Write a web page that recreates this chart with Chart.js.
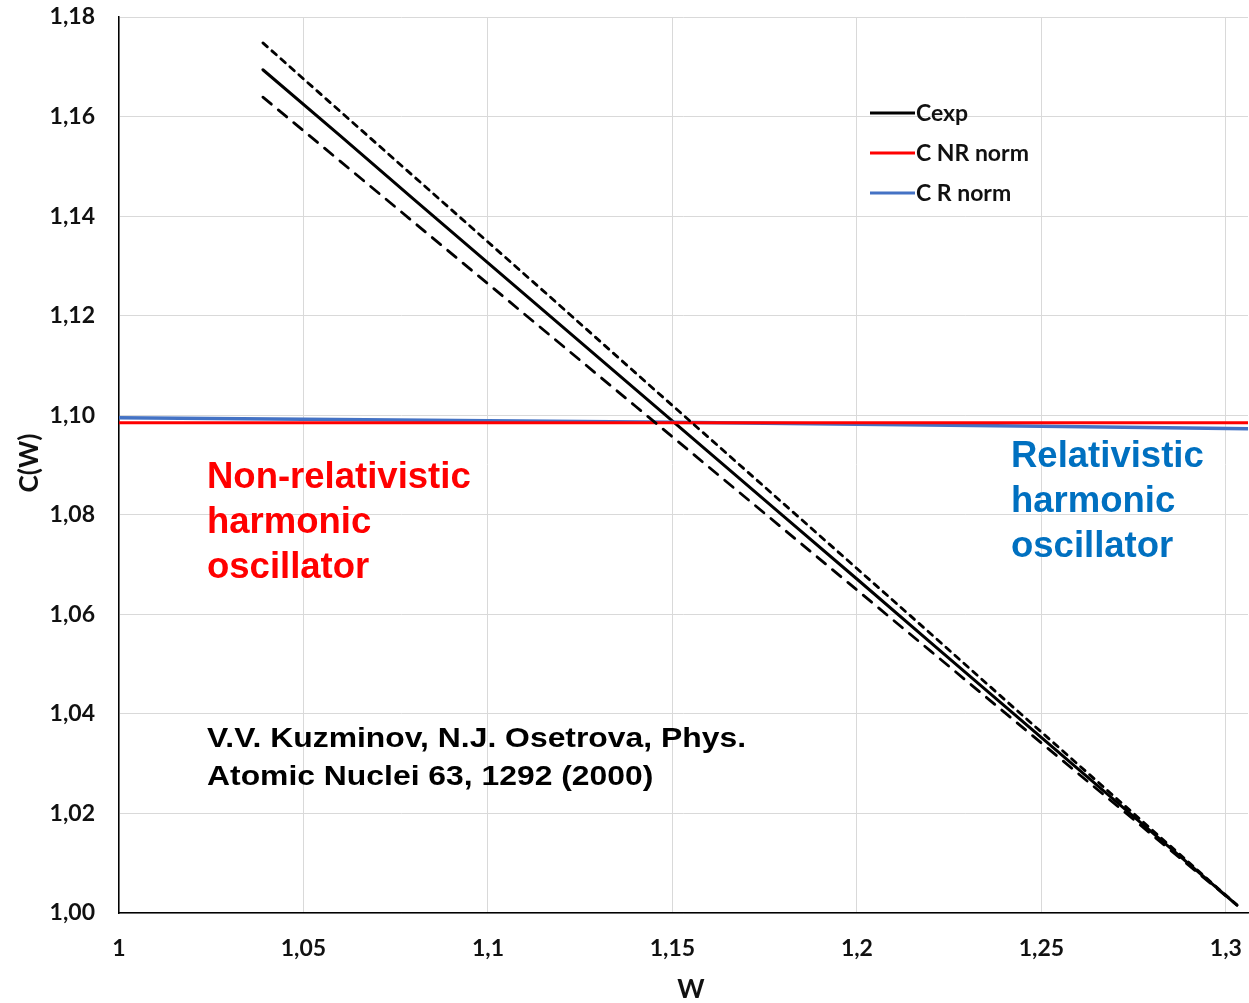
<!DOCTYPE html>
<html>
<head>
<meta charset="utf-8">
<script src="https://cdn.jsdelivr.net/npm/chart.js@4/dist/chart.umd.min.js"></script>
<style>
html,body{margin:0;padding:0;background:#fff;}
#wrap{width:1249px;height:1003px;}
</style>
</head>
<body>
<div id="wrap"><canvas id="c" width="1249" height="1003"></canvas></div>
<script>
// ---- data ----
const wExp = [1.039, 1.06, 1.08, 1.10, 1.12, 1.14, 1.16, 1.18, 1.20, 1.22, 1.24, 1.26, 1.28, 1.303];
const cExp = [1.1694, 1.1561, 1.1433, 1.1306, 1.1179, 1.1052, 1.0925, 1.0798, 1.0671, 1.0543, 1.0416, 1.0289, 1.0162, 1.0016];
const cExpUpper = [1.1748, 1.1610, 1.1479, 1.1348, 1.1217, 1.1085, 1.0954, 1.0823, 1.0692, 1.0561, 1.0429, 1.0298, 1.0167, 1.0016];
const cExpLower = [1.1639, 1.1510, 1.1387, 1.1264, 1.1141, 1.1018, 1.0895, 1.0772, 1.0649, 1.0526, 1.0403, 1.0280, 1.0157, 1.0016];
const wNorm = [1.0, 1.05, 1.1, 1.15, 1.2, 1.25, 1.306];
const cNRnorm = [1.0985, 1.0985, 1.0985, 1.0985, 1.0985, 1.0985, 1.0985];
const cRnorm = [1.0995, 1.0992, 1.0989, 1.0986, 1.0982, 1.0978, 1.0973];
const xTicks = [1, 1.05, 1.1, 1.15, 1.2, 1.25, 1.3];
const yTicks = [1.00, 1.02, 1.04, 1.06, 1.08, 1.10, 1.12, 1.14, 1.16, 1.18];
const seriesNames = ['Cexp', 'C NR norm', 'C R norm'];
const xTitle = 'W';
const yTitle = 'C(W)';
const noteNR = ['Non-relativistic', 'harmonic', 'oscillator'];
const noteR = ['Relativistic', 'harmonic', 'oscillator'];
const citation = ['V.V. Kuzminov, N.J. Osetrova, Phys.', 'Atomic Nuclei 63, 1292 (2000)'];

const pts = (xs, ys) => xs.map((x, i) => ({x: x, y: ys[i]}));
const fmtX = v => String(+v.toFixed(2)).replace('.', ',');
const fmtY = v => v.toFixed(2).replace('.', ',');

const colors = ['#000000', '#FF0000', '#4472C4'];

function stretchText(ctx, t, x, y, sx) {
  ctx.save();
  ctx.translate(x, y);
  ctx.scale(sx, 1);
  ctx.fillText(t, 0, 0);
  ctx.restore();
}

const textPlugin = {
  id: 'texts',
  afterDraw(chart) {
    const ctx = chart.ctx;
    ctx.save();
    // legend
    const lx = 870, ly = [113, 153, 193];
    ctx.font = 'bold 23px Lato';
    ctx.textBaseline = 'middle';
    ctx.textAlign = 'left';
    seriesNames.forEach((n, i) => {
      ctx.strokeStyle = colors[i];
      ctx.lineWidth = 3;
      ctx.beginPath();
      ctx.moveTo(lx, ly[i]);
      ctx.lineTo(lx + 45, ly[i]);
      ctx.stroke();
      ctx.fillStyle = '#111111';
      ctx.fillText(n, lx + 46, ly[i] + 1);
    });
    // annotations
    ctx.font = 'bold 36.5px "Liberation Sans"';
    ctx.fillStyle = '#FF0000';
    noteNR.forEach((t, i) => ctx.fillText(t, 207, 478 + i * 45));
    ctx.fillStyle = '#0070C0';
    noteR.forEach((t, i) => ctx.fillText(t, 1011, 457 + i * 45));
    ctx.fillStyle = '#000000';
    ctx.font = 'bold 28px "Liberation Sans"';
    const w0 = ctx.measureText(citation[0]).width;
    const sx = 539 / w0;
    citation.forEach((t, i) => stretchText(ctx, t, 207, 739 + i * 38, sx));
    // axis titles
    ctx.font = 'bold 26px Lato';
    ctx.textAlign = 'center';
    ctx.fillStyle = '#111111';
    ctx.fillText(xTitle, 691, 990);
    ctx.translate(30, 463);
    ctx.rotate(-Math.PI / 2);
    ctx.fillText(yTitle, 0, 0);
    ctx.restore();
  }
};

new Chart(document.getElementById('c'), {
  type: 'line',
  data: {
    datasets: [
      {label: 'upper', data: pts(wExp, cExpUpper), borderColor: '#000', borderWidth: 2.8, borderDash: [6, 6], borderCapStyle: 'round', pointRadius: 0, tension: 0},
      {label: 'lower', data: pts(wExp, cExpLower), borderColor: '#000', borderWidth: 2.8, borderDash: [11, 9], borderCapStyle: 'round', pointRadius: 0, tension: 0},
      {label: seriesNames[1], data: pts(wNorm, cNRnorm), borderColor: colors[1], borderWidth: 3, pointRadius: 0, tension: 0},
      {label: seriesNames[2], data: pts(wNorm, cRnorm), borderColor: colors[2], borderWidth: 3.5, pointRadius: 0, tension: 0},
      {label: seriesNames[0], data: pts(wExp, cExp), borderColor: colors[0], borderWidth: 3, borderCapStyle: 'round', pointRadius: 0, tension: 0}
    ]
  },
  options: {
    responsive: false,
    animation: false,
    layout: {autoPadding: false, padding: {top: 17, right: 1, left: 0, bottom: 0}},
    plugins: {legend: {display: false}, tooltip: {enabled: false}},
    scales: {
      x: {
        type: 'linear', min: 1, max: 1.306,
        afterBuildTicks: s => { s.ticks = xTicks.map(v => ({value: v})); },
        afterFit: s => { s.height = 90; s.paddingLeft = 0; s.paddingRight = 0; s.paddingTop = 0; s.paddingBottom = 0; },
        grid: {color: '#d9d9d9', lineWidth: 1, drawTicks: false},
        border: {color: '#000', width: 1.5},
        ticks: {callback: v => fmtX(v), font: {family: 'Lato', weight: 'bold', size: 23}, color: '#111111', padding: 22, maxRotation: 0, autoSkip: false}
      },
      y: {
        type: 'linear', min: 1.0, max: 1.18,
        afterBuildTicks: s => { s.ticks = yTicks.map(v => ({value: v})); },
        afterFit: s => { s.width = 119; s.paddingLeft = 0; s.paddingRight = 0; s.paddingTop = 0; s.paddingBottom = 0; },
        grid: {color: '#d9d9d9', lineWidth: 1, drawTicks: false},
        border: {color: '#000', width: 1.5},
        ticks: {callback: v => fmtY(v), font: {family: 'Lato', weight: 'bold', size: 23}, color: '#111111', padding: 24, autoSkip: false}
      }
    }
  },
  plugins: [textPlugin]
});
</script>
</body>
</html>
